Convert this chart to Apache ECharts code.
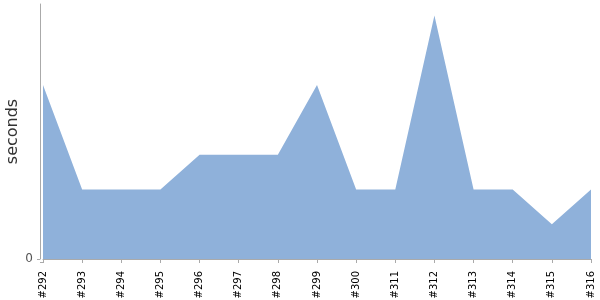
<!DOCTYPE html>
<html>
<head>
<meta charset="utf-8">
<script src="https://cdn.jsdelivr.net/npm/echarts@6/dist/echarts.min.js"></script>
<style>html,body{margin:0;padding:0;background:#fff}#c{width:600px;height:300px}</style>
</head>
<body>
<div id="c"></div>
<script>
const builds = ['#292','#293','#294','#295','#296','#297','#298','#299','#300','#311','#312','#313','#314','#315','#316'];
const durations = [5, 2, 2, 2, 3, 3, 3, 5, 2, 2, 7, 2, 2, 1, 2];
const yMax = 7.33;

const chart = echarts.init(document.getElementById('c'), null, {renderer: 'canvas'});
chart.setOption({
  animation: false,
  grid: {left: 43, right: 9, top: 4, bottom: 41, containLabel: false, outerBoundsMode: 'none'},
  xAxis: {
    type: 'category',
    data: builds,
    boundaryGap: false,
    offset: 3,
    axisLine: {lineStyle: {color: '#aaaaaa', width: 1}},
    axisTick: {show: true, length: 4, lineStyle: {color: '#aaaaaa'}},
    axisLabel: {rotate: 90, margin: 9, fontSize: 10, color: '#000', fontFamily: 'DejaVu Sans', interval: 0}
  },
  yAxis: {
    type: 'value',
    min: 0,
    max: yMax,
    interval: yMax,
    offset: 3,
    name: 'seconds',
    nameLocation: 'middle',
    nameGap: 19,
    nameMoveOverlap: false,
    nameTextStyle: {fontSize: 16, color: '#333', fontFamily: 'DejaVu Sans'},
    axisLine: {show: true, lineStyle: {color: '#aaaaaa', width: 1}},
    axisTick: {show: false},
    splitLine: {show: false},
    axisLabel: {margin: 7, fontSize: 12, color: '#555', fontFamily: 'DejaVu Sans',
      formatter: v => v === 0 ? '0' : ''}
  },
  series: [{
    type: 'line',
    data: durations,
    symbol: 'none',
    lineStyle: {width: 0, color: '#8fb1da'},
    areaStyle: {color: '#8fb1da', opacity: 1}
  }]
});
const y0 = chart.convertToPixel({yAxisIndex: 0}, 0);
const xL = chart.convertToPixel({xAxisIndex: 0}, 0);
const gl = xL - 3;
chart.setOption({
  graphic: [
    {type: 'line', shape: {x1: gl - 3, y1: y0 + 0.5, x2: gl, y2: y0 + 0.5}, style: {stroke: '#aaaaaa', lineWidth: 1}},
    {type: 'line', shape: {x1: gl, y1: y0 + 3.5, x2: xL, y2: y0 + 3.5}, style: {stroke: '#aaaaaa', lineWidth: 1}}
  ]
});
</script>
</body>
</html>
